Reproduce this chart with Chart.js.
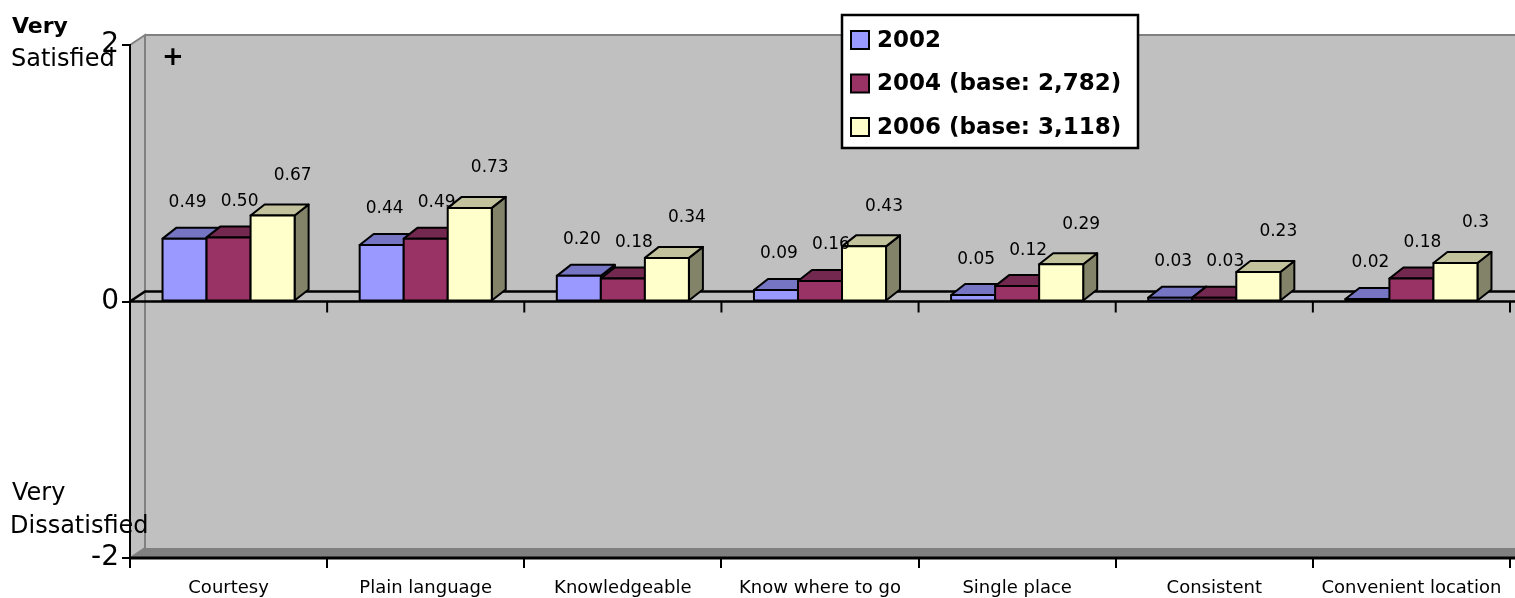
<!DOCTYPE html>
<html>
<head>
<meta charset="utf-8">
<title>Satisfaction</title>
<script src="https://cdn.jsdelivr.net/npm/chart.js@4.4.1/dist/chart.umd.min.js"></script>
<style>
  html, body { margin: 0; padding: 0; background: #fff; }
  #wrap { width: 1515px; height: 598px; }
</style>
</head>
<body>
<div id="wrap"><canvas id="chart"></canvas></div>
<script>

// ---------------------------------------------------------------------------
// Data
// ---------------------------------------------------------------------------

var categories = ['Courtesy', 'Plain language', 'Knowledgeable', 'Know where to go',
                  'Single place', 'Consistent', 'Convenient location'];

var values2002 = [0.49, 0.44, 0.20, 0.09, 0.05, 0.03, 0.02];
var values2004 = [0.50, 0.49, 0.18, 0.16, 0.12, 0.03, 0.18];
var values2006 = [0.67, 0.73, 0.34, 0.43, 0.29, 0.23, 0.30];

var text2002 = ['0.49', '0.44', '0.20', '0.09', '0.05', '0.03', '0.02'];
var text2004 = ['0.50', '0.49', '0.18', '0.16', '0.12', '0.03', '0.18'];
var text2006 = ['0.67', '0.73', '0.34', '0.43', '0.29', '0.23', '0.3'];

var seriesNames = ['2002', '2004 (base: 2,782)', '2006 (base: 3,118)'];
var yTicks = [-2, 0, 2];

// ---------------------------------------------------------------------------
// Styles
// ---------------------------------------------------------------------------

var frontColors = ['#9999ff', '#993366', '#ffffcc'];
var topColors   = ['#7575c4', '#73284f', '#c2c29c'];
var sideColors  = ['#5e5e9e', '#5a1f3e', '#83836a'];

var WALL_DX = 15, WALL_DY = 10;   // depth of the back wall
var BAR_DX = 14, BAR_DY = 11;     // depth of the columns
var labelShift = [3, 11, 20];     // data label x shift per series
var labelLift = [36, 36, 40];     // data label lift above front top

Chart.defaults.font.family = 'DejaVu Sans';
Chart.defaults.color = '#000';

function poly(ctx, pts, fill) {
  ctx.beginPath();
  ctx.moveTo(pts[0][0], pts[0][1]);
  for (let k = 1; k < pts.length; k++) ctx.lineTo(pts[k][0], pts[k][1]);
  ctx.closePath();
  ctx.fillStyle = fill;
  ctx.fill();
  ctx.stroke();
}

// ---------------------------------------------------------------------------
// Walls, floor and the zero plane
// ---------------------------------------------------------------------------

var wallPlugin = {
  id: 'walls',
  beforeDraw(chart) {
    let ctx = chart.ctx;
    let a = chart.chartArea;
    let W = chart.width;
    let y0 = chart.scales.y.getPixelForValue(0);
    let xs = chart.scales.x;

    ctx.save();
    // back wall
    ctx.fillStyle = '#c0c0c0';
    ctx.fillRect(a.left + WALL_DX, a.top - WALL_DY, W - a.left - WALL_DX, a.bottom - a.top);

    // side wall
    ctx.strokeStyle = '#808080';
    ctx.lineWidth = 2;
    poly(ctx, [[a.left, a.top], [a.left + WALL_DX, a.top - WALL_DY],
               [a.left + WALL_DX, a.bottom - WALL_DY], [a.left, a.bottom]], '#c0c0c0');
    ctx.beginPath();
    ctx.moveTo(a.left + WALL_DX, a.top - WALL_DY);
    ctx.lineTo(W, a.top - WALL_DY);
    ctx.stroke();

    // floor
    ctx.beginPath();
    ctx.moveTo(a.left, a.bottom);
    ctx.lineTo(a.left + WALL_DX, a.bottom - WALL_DY);
    ctx.lineTo(W, a.bottom - WALL_DY);
    ctx.lineTo(W, a.bottom);
    ctx.closePath();
    ctx.fillStyle = '#808080';
    ctx.fill();

    // zero plane
    ctx.strokeStyle = '#000';
    ctx.lineWidth = 2.5;
    ctx.beginPath();
    ctx.moveTo(W, y0 - WALL_DY);
    ctx.lineTo(a.left + WALL_DX, y0 - WALL_DY);
    ctx.lineTo(a.left, y0);
    ctx.lineTo(W, y0);
    ctx.stroke();

    // ticks on the zero plane
    ctx.lineWidth = 2;
    let n = categories.length;
    for (let i = 1; i <= n; i++) {
      let x = xs.left + i * (xs.width / n);
      ctx.beginPath();
      ctx.moveTo(x, y0);
      ctx.lineTo(x, y0 + 11);
      ctx.stroke();
    }

    // front floor edge
    ctx.lineWidth = 3;
    ctx.beginPath();
    ctx.moveTo(a.left, a.bottom);
    ctx.lineTo(W, a.bottom);
    ctx.stroke();
    ctx.restore();
  }
};

// ---------------------------------------------------------------------------
// 3D columns and their labels
// ---------------------------------------------------------------------------

var columnPlugin = {
  id: 'columns',
  afterDatasetsDraw(chart) {
    let ctx = chart.ctx;
    let metas = chart.data.datasets.map((d, i) => chart.getDatasetMeta(i));
    let texts = [text2002, text2004, text2006];

    ctx.save();
    ctx.strokeStyle = '#000';
    ctx.lineWidth = 2;
    ctx.lineJoin = 'round';

    for (let j = 0; j < categories.length; j++) {
      for (let i = 0; i < metas.length; i++) {
        let p = metas[i].data[j].getProps(['x', 'y', 'base', 'width'], true);
        let l = p.x - p.width / 2, r = p.x + p.width / 2;
        poly(ctx, [[r, p.y], [r + BAR_DX, p.y - BAR_DY], [r + BAR_DX, p.base - BAR_DY], [r, p.base]], sideColors[i]);
        poly(ctx, [[l, p.y], [l + BAR_DX, p.y - BAR_DY], [r + BAR_DX, p.y - BAR_DY], [r, p.y]], topColors[i]);
        poly(ctx, [[l, p.y], [r, p.y], [r, p.base], [l, p.base]], frontColors[i]);
      }
    }

    ctx.fillStyle = '#000';
    ctx.font = '17px "DejaVu Sans"';
    ctx.textAlign = 'center';
    ctx.textBaseline = 'middle';
    for (let i = 0; i < metas.length; i++) {
      for (let j = 0; j < categories.length; j++) {
        let p = metas[i].data[j].getProps(['x', 'y'], true);
        ctx.fillText(texts[i][j], p.x + labelShift[i], p.y - labelLift[i]);
      }
    }
    ctx.restore();
  }
};

// ---------------------------------------------------------------------------
// Side captions, plus sign and legend
// ---------------------------------------------------------------------------

var decorPlugin = {
  id: 'decor',
  afterDraw(chart) {
    let ctx = chart.ctx;
    let a = chart.chartArea;
    ctx.save();
    ctx.fillStyle = '#000';
    ctx.textAlign = 'left';
    ctx.textBaseline = 'alphabetic';

    ctx.font = 'bold 22px "DejaVu Sans"';
    ctx.fillText('Very', 12, 33);
    ctx.font = '24px "DejaVu Sans"';
    ctx.fillText('Satisfied', 11, 66);
    ctx.fillText('Very', 12, 500);
    ctx.fillText('Dissatisfied', 10, 533);

    ctx.font = 'bold 26px "DejaVu Sans"';
    ctx.textAlign = 'center';
    ctx.textBaseline = 'middle';
    ctx.fillText('+', a.left + 43, a.top + 13);

    // legend box
    let lx = 842, ly = 15, lw = 296, lh = 133;
    ctx.fillStyle = '#fff';
    ctx.fillRect(lx, ly, lw, lh);
    ctx.strokeStyle = '#000';
    ctx.lineWidth = 2.5;
    ctx.strokeRect(lx, ly, lw, lh);

    ctx.font = 'bold 23px "DejaVu Sans"';
    ctx.textAlign = 'left';
    ctx.lineWidth = 2;
    chart.data.datasets.forEach((ds, i) => {
      let cy = ly + 25 + i * 43.5;
      ctx.fillStyle = frontColors[i];
      ctx.fillRect(lx + 9, cy - 9, 18, 18);
      ctx.strokeRect(lx + 9, cy - 9, 18, 18);
      ctx.fillStyle = '#000';
      ctx.fillText(ds.label, lx + 35, cy + 1);
    });
    ctx.restore();
  }
};

// ---------------------------------------------------------------------------
// Chart
// ---------------------------------------------------------------------------

var ctx = document.getElementById('chart').getContext('2d');

var chart = new Chart(ctx, {
  type: 'bar',
  data: {
    labels: categories,
    datasets: [
      { label: seriesNames[0], data: values2002, backgroundColor: frontColors[0] },
      { label: seriesNames[1], data: values2004, backgroundColor: frontColors[1] },
      { label: seriesNames[2], data: values2006, backgroundColor: frontColors[2] }
    ]
  },
  options: {
    responsive: true,
    maintainAspectRatio: false,
    animation: false,
    categoryPercentage: 0.67,
    barPercentage: 1.0,
    layout: { padding: { top: 45, right: 5, left: 0, bottom: 0 } },
    plugins: {
      legend: { display: false },
      tooltip: { enabled: false }
    },
    scales: {
      x: {
        grid: { display: true, drawOnChartArea: false, offset: true, tickLength: 10, color: '#000', lineWidth: 2 },
        border: { display: false },
        ticks: { font: { size: 18 }, padding: 10, maxRotation: 0, autoSkip: false },
        afterFit: (scale) => { scale.height = 40; }
      },
      y: {
        min: yTicks[0],
        max: yTicks[yTicks.length - 1],
        afterBuildTicks: (scale) => { scale.ticks = yTicks.map(v => ({ value: v })); },
        grid: { drawOnChartArea: false, tickLength: 8, color: '#000', lineWidth: 2 },
        border: { display: true, color: '#000', width: 2 },
        ticks: { font: { size: 28 }, padding: 3 },
        afterFit: (scale) => { scale.width = 130; }
      }
    }
  },
  plugins: [wallPlugin, columnPlugin, decorPlugin]
});

</script>
</body>
</html>
